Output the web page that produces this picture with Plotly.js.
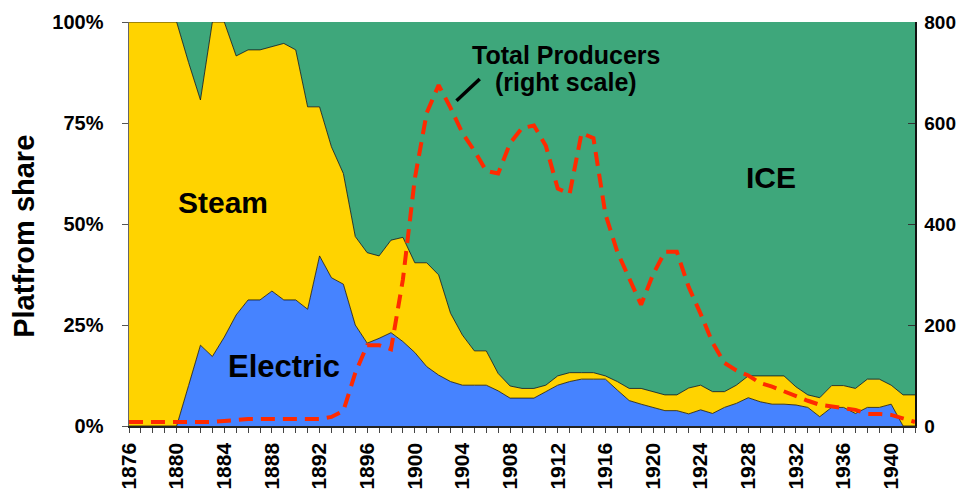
<!DOCTYPE html>
<html>
<head>
<meta charset="utf-8">
<script src="https://cdn.plot.ly/plotly-3.0.1.min.js"></script>
<style>html,body{margin:0;padding:0;background:#fff;}#chart{width:962px;height:496px;}</style>
</head>
<body>
<div id="chart"></div>
<script>
// Years 1876..1942
const years = [1876,1877,1878,1879,1880,1881,1882,1883,1884,1885,1886,1887,1888,1889,1890,1891,1892,1893,1894,1895,1896,1897,1898,1899,1900,1901,1902,1903,1904,1905,1906,1907,1908,1909,1910,1911,1912,1913,1914,1915,1916,1917,1918,1919,1920,1921,1922,1923,1924,1925,1926,1927,1928,1929,1930,1931,1932,1933,1934,1935,1936,1937,1938,1939,1940,1941,1942];

// Platform shares (%)
const electric = [0,0,0,0,0,10,20.0,17.2,22,27.5,31.2,31.2,33.4,31.2,31.2,28.9,42.1,36.7,35.1,25.0,20.5,21.7,23.1,20.9,18.2,14.7,12.6,11.0,10.1,10.1,10.1,8.7,6.9,6.9,6.9,8.5,10.1,11.0,11.6,11.6,11.6,8.9,6.3,5.4,4.6,3.8,3.8,3.0,4.0,3.1,4.6,5.6,7.0,6.0,5.4,5.4,5.2,4.6,2.3,4.6,4.6,3.1,4.6,4.6,5.4,0,0];
const steam = [100,100,100,100,100,80,60.7,82.8,78,64.1,61.9,61.9,60.5,63.5,61.9,50.1,36.9,32.4,27.4,21.9,22.4,20.4,22.9,25.8,22.2,25.7,24.8,16.9,12.4,8.5,8.5,4.3,3.0,2.4,2.4,1.6,2.3,2.2,1.6,1.6,0.8,2.1,3.0,3.9,3.9,3.9,3.9,6.4,6.1,5.4,3.9,4.5,5.4,6.4,7.0,7.0,4.5,3.1,4.7,5.4,5.4,6.2,7.0,7.0,4.7,7.7,7.7];
const ice = [0,0,0,0,0,10,19.3,0,0,8.4,6.9,6.9,6.1,5.3,6.9,21.0,21.0,30.9,37.5,53.1,57.1,57.9,54.0,53.3,59.6,59.6,62.6,72.1,77.5,81.4,81.4,87.0,90.1,90.7,90.7,89.9,87.6,86.8,86.8,86.8,87.6,89.0,90.7,90.7,91.5,92.3,92.3,90.6,89.9,91.5,91.5,89.9,87.6,87.6,87.6,87.6,90.3,92.3,93.0,90.0,90.0,90.7,88.4,88.4,89.9,92.3,92.3];

// Total producers (right scale)
const producers = [8,8,8,8,8,8,8,8,10,12,14,14,14,14,14,14,14,18,30,105,160,160,152,290,490,620,675,630,580,545,505,500,560,590,595,555,470,460,580,570,420,345,292,240,300,345,345,275,222,165,125,110,100,85,78,68,58,50,42,38,35,32,24,24,22,14,8];

const xTickVals = [1876,1880,1884,1888,1892,1896,1900,1904,1908,1912,1916,1920,1924,1928,1932,1936,1940];
const yTickVals = [0,25,50,75,100];
const yTickText = ['0%','25%','50%','75%','100%'];
const y2TickVals = [0,200,400,600,800];

const FONT = 'Liberation Sans, Arial, Helvetica, sans-serif';

const traces = [
  {x: years, y: electric, name: 'Electric', type: 'scatter', mode: 'lines', stackgroup: 'share',
   line: {color: '#111', width: 0.8}, fillcolor: '#4683FF'},
  {x: years, y: steam, name: 'Steam', type: 'scatter', mode: 'lines', stackgroup: 'share',
   line: {color: '#111', width: 0.8}, fillcolor: '#FFD300'},
  {x: years, y: ice, name: 'ICE', type: 'scatter', mode: 'lines', stackgroup: 'share',
   line: {color: '#3EA77B', width: 0}, fillcolor: '#3EA77B'},
  {x: years, y: producers, name: 'Total Producers', type: 'scatter', mode: 'lines', yaxis: 'y2',
   line: {color: '#FF2A00', width: 4, dash: '14px,8px'}}
];

const layout = {
  width: 962, height: 496,
  margin: {l: 129, r: 47, t: 22, b: 70},
  paper_bgcolor: '#fff', plot_bgcolor: '#fff',
  showlegend: false,
  font: {family: FONT, color: '#000'},
  xaxis: {
    range: [1876, 1942], tickmode: 'array', tickvals: xTickVals, tickangle: -90,
    ticks: 'outside', ticklen: 5, tickcolor: '#444', tickwidth: 1,
    minor: {tick0: 1876, dtick: 1, ticks: 'outside', ticklen: 5, tickcolor: '#444', tickwidth: 1},
    showline: true, linecolor: '#222', linewidth: 1.5, showgrid: false, zeroline: false,
    tickfont: {family: FONT, size: 21, weight: 'bold', color: '#000'},
    ticklabelstandoff: 2
  },
  yaxis: {
    range: [0, 100], tickmode: 'array', tickvals: yTickVals, ticktext: yTickText,
    ticks: 'outside', ticklen: 6, tickcolor: '#555',
    showline: true, linecolor: '#666', linewidth: 1.5, showgrid: false, zeroline: false,
    tickfont: {family: FONT, size: 20, weight: 'bold', color: '#000'},
    ticklabelstandoff: 14
  },
  yaxis2: {
    overlaying: 'y', side: 'right', range: [0, 800], tickmode: 'array', tickvals: y2TickVals,
    ticks: 'inside', ticklen: 7, tickcolor: '#333',
    showline: true, linecolor: '#111', linewidth: 1.5, showgrid: false, zeroline: false,
    tickfont: {family: FONT, size: 19, weight: 'bold', color: '#000'},
    ticklabelstandoff: 4
  },
  shapes: [
    {type: 'line', xref: 'x', yref: 'y2', x0: 1903.5, y0: 644, x1: 1905.45, y1: 687,
     line: {color: '#000', width: 3.5}}
  ],
  annotations: [
    {text: 'Steam', x: 1883.9, y: 55.2, xref: 'x', yref: 'y', showarrow: false,
     font: {family: FONT, size: 30, weight: 'bold', color: '#000'}},
    {text: 'Electric', x: 1889.0, y: 14.7, xref: 'x', yref: 'y', showarrow: false,
     font: {family: FONT, size: 31, weight: 'bold', color: '#000'}},
    {text: 'ICE', x: 1929.9, y: 61.4, xref: 'x', yref: 'y', showarrow: false,
     font: {family: FONT, size: 30, weight: 'bold', color: '#000'}},
    {text: 'Total Producers', x: 1912.7, y: 91.8, xref: 'x', yref: 'y', showarrow: false,
     font: {family: FONT, size: 25, weight: 'bold', color: '#000'}},
    {text: '(right scale)', x: 1912.7, y: 85.1, xref: 'x', yref: 'y', showarrow: false,
     font: {family: FONT, size: 25, weight: 'bold', color: '#000'}},
    {text: 'Platfrom share', x: -0.134, y: 0.47, xref: 'paper', yref: 'paper', showarrow: false,
     xanchor: 'center', yanchor: 'middle',
     textangle: -90, font: {family: FONT, size: 29, weight: 'bold', color: '#000'}}
  ]
};

Plotly.newPlot('chart', traces, layout, {displayModeBar: false, staticPlot: true});
</script>
</body>
</html>
